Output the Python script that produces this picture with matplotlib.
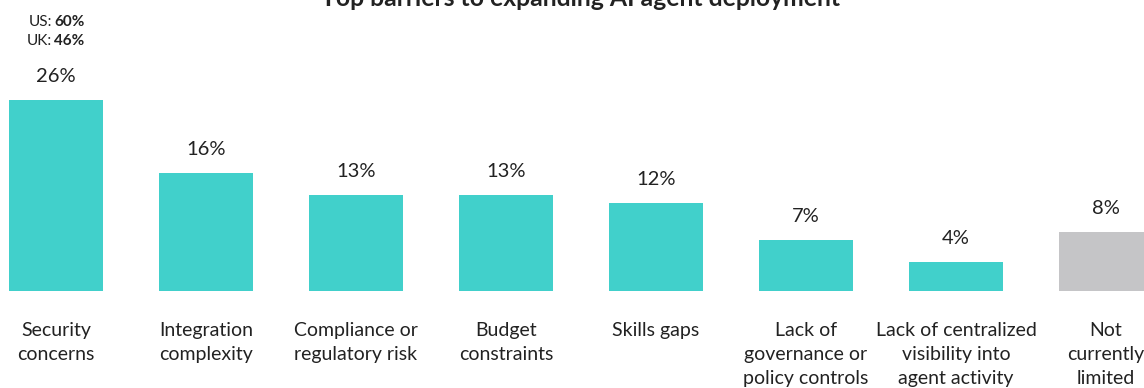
import matplotlib
matplotlib.use("Agg")
import matplotlib.pyplot as plt

plt.rcParams["font.family"] = ["Lato", "DejaVu Sans"]

# Barrier categories and share of respondents (%)
categories = [
    "Security\nconcerns",
    "Integration\ncomplexity",
    "Compliance or\nregulatory risk",
    "Budget\nconstraints",
    "Skills gaps",
    "Lack of\ngovernance or\npolicy controls",
    "Lack of centralized\nvisibility into\nagent activity",
    "Not\ncurrently\nlimited",
]
values = [26, 16, 13, 13, 12, 7, 4, 8]
colors = ["#41D0CB"] * 7 + ["#C5C5C7"]

# country breakdown for the top barrier
country_labels = ["US:", "UK:"]
country_values = [60, 46]

TEXT = "#222222"

fig = plt.figure(figsize=(11.44, 3.88), dpi=100)
ax = fig.add_axes([0, 0.25, 1, 0.75])

x = list(range(len(values)))
ax.bar(x, values, width=0.627, color=colors)

ax.set_xlim(-0.3733, 7.2533)
ax.set_ylim(0, 39.6)
ax.axis("off")

# value labels above the bars
for xi, v in zip(x, values):
    ax.annotate(f"{v}%", (xi, v), xytext=(0, 13), textcoords="offset points",
                ha="center", va="baseline", fontsize=14.5, color=TEXT)

# category labels below the bars
for xi, cat in zip(x, categories):
    ax.annotate(cat, (xi, 0), xytext=(0, -22.5), textcoords="offset points",
                ha="center", va="top", fontsize=14, color=TEXT,
                linespacing=1.5, annotation_clip=False)

# US / UK breakdown above the first bar
for i, (lab, val) in enumerate(zip(country_labels, country_values)):
    y = 1 - (26 + 19 * i) / 388
    fig.text(0.0455, y, lab, ha="right", va="baseline", fontsize=11, color=TEXT)
    fig.text(0.0475, y, f"{val}%", ha="left", va="baseline", fontsize=11,
             color=TEXT, fontweight="bold")

fig.text(0.5074, 1 - 6 / 388, "Top barriers to expanding AI agent deployment",
         ha="center", va="baseline", fontsize=17.8, fontweight="bold", color=TEXT)

fig.savefig("out.png", dpi=100)
